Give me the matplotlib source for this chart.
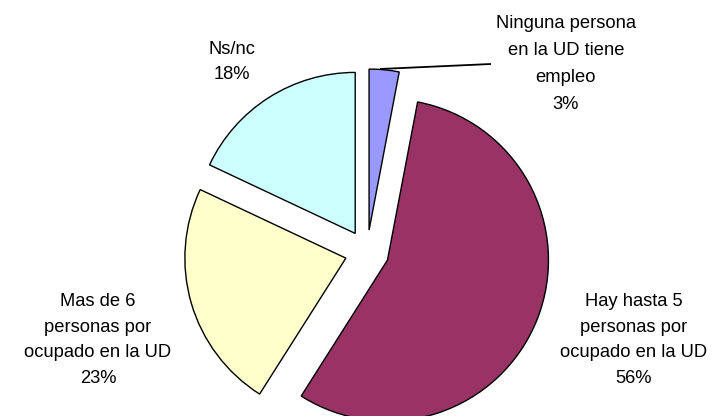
import matplotlib
matplotlib.use("Agg")
import matplotlib.pyplot as plt

labels = ["Ninguna persona\nen la UD tiene\nempleo",
          "Hay hasta 5\npersonas por\nocupado en la UD",
          "Mas de 6\npersonas por\nocupado en la UD",
          "Ns/nc"]
values = [3, 56, 23, 18]
colors = ["#9999FF", "#993366", "#FFFFCC", "#CCFFFF"]

W, H = 722, 416
fig = plt.figure(figsize=(W / 100, H / 100), dpi=100)
ax = fig.add_axes([0, 0, 1, 1])

cx, cy = 367, H - 252
radius = 161
explode = [22] * len(values)

wedges, _ = ax.pie(values, colors=colors, startangle=90, counterclock=False,
                   center=(cx, cy), radius=radius, explode=explode,
                   wedgeprops=dict(edgecolor="black", linewidth=1.0),
                   frame=False)

ax.set_xlim(0, W)
ax.set_ylim(0, H)
ax.set_aspect("equal")
ax.axis("off")

total = sum(values)
pct = [f"{round(v / total * 100)}%" for v in values]
label_pos = [(566, H - 64), (634, H - 340), (98, H - 340), (232, H - 62)]
spacing = [1.78, 1.66, 1.66, 1.66]
for lab, p, (x, y), ls in zip(labels, pct, label_pos, spacing):
    ax.text(x, y, f"{lab}\n{p}", ha="center", va="center", multialignment="center",
            fontsize=13.2, family=["Liberation Sans", "DejaVu Sans"],
            linespacing=ls, color="black")

# leader line for the small slice
ax.plot([380, 491], [H - 69, H - 64], color="black", linewidth=1.3,
        solid_capstyle="butt")

fig.savefig("out.png", dpi=100, facecolor="white")
